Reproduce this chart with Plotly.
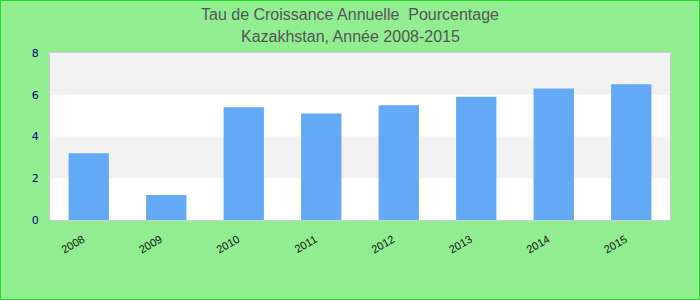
import plotly.graph_objects as go

years = ["2008", "2009", "2010", "2011", "2012", "2013", "2014", "2015"]
growth = [3.2, 1.2, 5.4, 5.1, 5.5, 5.9, 6.3, 6.5]
y_ticks = [0, 2, 4, 6, 8]
title_lines = ["Tau de Croissance Annuelle  Pourcentage", "Kazakhstan, Année 2008-2015"]

W, H = 700, 300
ML, MR, MT, MB = 50, 30, 53, 80
PW, PH = W - ML - MR, H - MT - MB

fig = go.Figure(go.Bar(
    x=years, y=growth,
    marker=dict(color="#63a9f5", line=dict(width=0)),
    hoverinfo="x+y",
))

shapes = []
for lo in (2, 6):
    shapes.append(dict(type="rect", xref="paper", yref="y", x0=0, x1=1, y0=lo, y1=lo + 2,
                       fillcolor="#f2f2f2", line=dict(width=0), layer="below"))
# page border
shapes.append(dict(type="rect", xref="paper", yref="paper",
                   x0=(0 - ML) / PW, x1=(W - ML) / PW,
                   y0=(-MB) / PH, y1=(H - MB) / PH,
                   line=dict(color="#22dd22", width=2), fillcolor="rgba(0,0,0,0)", layer="above"))

annotations = []
for txt, ypix in zip(title_lines, (14, 37)):
    annotations.append(dict(text=txt, xref="paper", yref="paper",
                            x=(W / 2 - ML) / PW, y=(H - MB - ypix) / PH,
                            xanchor="center", yanchor="middle", showarrow=False,
                            font=dict(family="Liberation Sans, Arial", size=16, color="#555555")))

fig.update_layout(
    width=W, height=H,
    margin=dict(l=ML, r=MR, t=MT, b=MB),
    paper_bgcolor="#90ee90",
    plot_bgcolor="#ffffff",
    bargap=0.48,
    showlegend=False,
    shapes=shapes,
    annotations=annotations,
    xaxis=dict(tickangle=-30, tickfont=dict(family="Liberation Sans, Arial", size=11, color="#111111"),
               showline=True, linecolor="#cccccc", linewidth=1, mirror=True,
               ticks="", showgrid=False, fixedrange=True,
               ticklabelstandoff=8, ticklabelshift=-6),
    yaxis=dict(range=[0, 8], tickvals=y_ticks, ticktext=[str(v) for v in y_ticks],
               tickfont=dict(family="DejaVu Sans, Verdana", size=11, color="#000088"),
               showline=True, linecolor="#cccccc", linewidth=1, mirror=True,
               showgrid=False, zeroline=False, ticks="", ticklabelstandoff=8, fixedrange=True),
)

fig.write_html("out.html", config={"displayModeBar": False})
